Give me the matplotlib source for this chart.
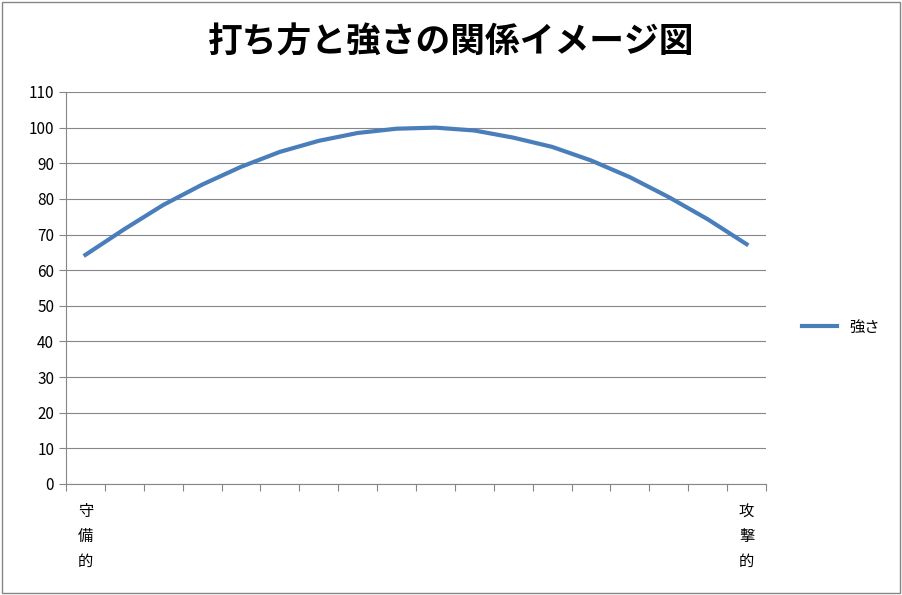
import matplotlib
matplotlib.use("Agg")
import matplotlib.pyplot as plt
from matplotlib.patches import Rectangle

plt.rcParams['font.family'] = ['Noto Sans CJK JP', 'DejaVu Sans']

values = [64.3, 71.5, 78.3, 84.0, 89.0, 93.2, 96.3, 98.5, 99.7, 100.0,
          99.2, 97.2, 94.6, 90.8, 86.1, 80.5, 74.3, 67.3]
labels = ["守\n備\n的"] + [""] * 16 + ["攻\n撃\n的"]
yticks = list(range(0, 111, 10))

W, H = 902, 595
fig = plt.figure(figsize=(W/100, H/100), dpi=100)
fig.patches.append(Rectangle((2/W, 2/H), 1-4/W, 1-4/H, transform=fig.transFigure,
                             fill=False, edgecolor='#868686', lw=1))
ax = fig.add_axes([66/W, 1-484/H, 700/W, 392/H])
x = [i + 0.5 for i in range(len(values))]
line, = ax.plot(x, values, color='#4a7ebb', lw=3, label='強さ')
ax.set_xlim(0, len(values))
ax.set_ylim(0, 110)
ax.set_yticks(yticks)
ax.set_yticklabels([str(v) for v in yticks], fontsize=11)
ax.yaxis.grid(True, color='#868686', lw=0.8)
ax.set_axisbelow(True)
ax.set_xticks(range(len(values) + 1))
ax.set_xticklabels([])
ax.set_xticks(x, minor=True)
ax.set_xticklabels(labels, minor=True, fontsize=11, linespacing=1.6, va='top')
ax.tick_params(axis='x', which='minor', length=0, pad=14)
ax.tick_params(axis='x', which='major', length=5, color='#868686', direction='out')
ax.tick_params(axis='y', length=5, color='#868686', direction='out')
for s in ['top', 'right']:
    ax.spines[s].set_visible(False)
for s in ['left', 'bottom']:
    ax.spines[s].set_color('#868686')
fig.text(451/W, 1-42/H, '打ち方と強さの関係イメージ図', ha='center', va='center',
         fontsize=25, fontweight='bold')
fig.legend(handles=[line], loc='center left', bbox_to_anchor=(788/W, 1-327/H),
           frameon=False, fontsize=11, handlelength=2.3)
fig.savefig('out.png', dpi=100)
